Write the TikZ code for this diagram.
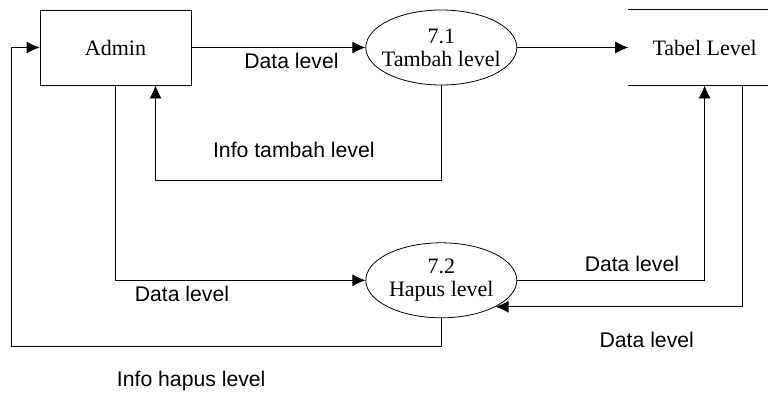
\documentclass[tikz,border=0pt]{standalone}
\usepackage{fontspec}
\setmainfont{Liberation Serif}
\setsansfont{Liberation Sans}
\usetikzlibrary{positioning, shapes.geometric, arrows.meta}

\begin{document}
\begin{tikzpicture}[x=1pt, y=-1pt, line width=0.8pt,
        entity/.style={rectangle, draw, minimum width=151pt, minimum height=75pt, inner sep=0pt, font=\fontsize{22}{24}\selectfont},
        process/.style={ellipse, draw, minimum width=151pt, minimum height=75pt, inner xsep=-8pt, inner ysep=0pt, align=center, font=\fontsize{22}{23}\selectfont},
        store/.style={rectangle, minimum width=152pt, minimum height=75pt, inner sep=0pt, font=\fontsize{22}{24}\selectfont},
        lbl/.style={inner sep=0pt, font=\sffamily\fontsize{21.2}{23}\selectfont},
        flow/.style={-{Latex[length=13pt, width=12pt]}}]
        \useasboundingbox (0,0) rectangle (768,392);
        \node (admin) [entity] at (115.5,47.5) {Admin};
        \node (tambah) [process, right= 174pt of admin] {7.1\\Tambah level};
        \node (tabel) [store, right= 111pt of tambah] {Tabel Level};
        \node (hapus) [process, below= 157pt of tambah] {7.2\\Hapus level};
        \draw (tabel.north west) -- (tabel.north east) (tabel.south west) -- (tabel.south east);
        \draw[flow] (admin) -- node[lbl, pos=0.575, below=5.5pt] {Data level} (tambah);
        \draw[flow] (tambah) -- (tabel);
        \draw[flow] (tambah.south) -- ++(0,95) -| node[lbl, pos=0.258, above=22pt] {Info tambah level} ([xshift=40pt]admin.south);
        \draw[flow] (admin.south) |- node[lbl, pos=0.633, below=5.5pt] {Data level} (hapus);
        \draw[flow] (hapus) -| node[lbl, pos=0.306, above=8.5pt] {Data level} (tabel.south);
        \draw[flow] ([xshift=38pt]tabel.south) |- node[lbl, pos=0.694, below=25pt] {Data level} (hapus.-26);
        \draw[flow] (hapus.south) -- ++(0,28) -| node[lbl, pos=0.291, below=25pt] {Info hapus level} ([xshift=-28pt]admin.west) -- (admin.west);
		\end{tikzpicture}
\end{document}
